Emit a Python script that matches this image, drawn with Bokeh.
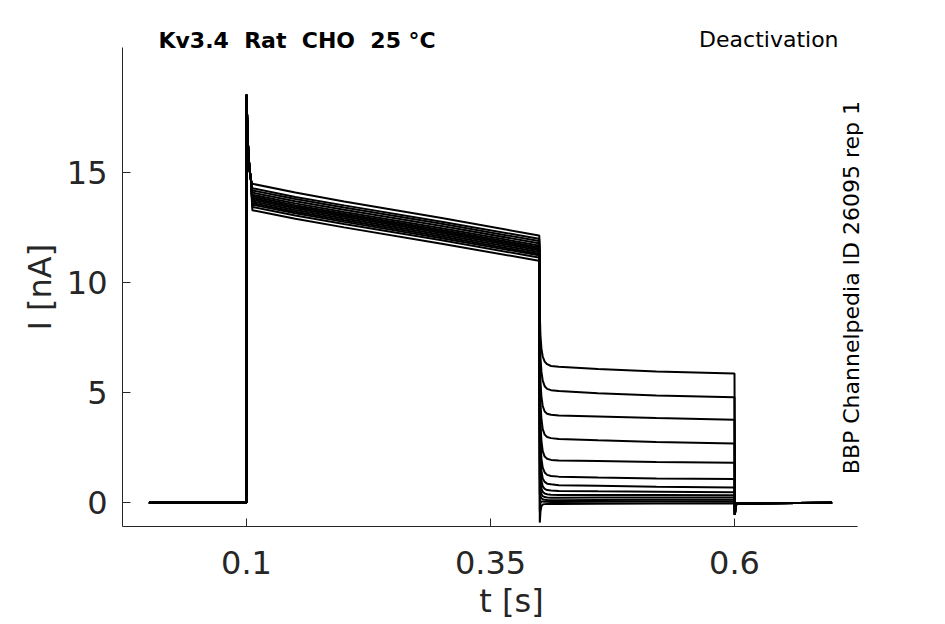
import math
from bokeh.plotting import figure
from bokeh.models import Range1d, FixedTicker, Label, ColumnDataSource, Title
from bokeh.embed import file_html
from bokeh.resources import INLINE

# ---------------- data ----------------
x_ticks = [0.1, 0.35, 0.6]
x_tick_labels = ["0.1", "0.35", "0.6"]
y_ticks = [0, 5, 10, 15]
y_tick_labels = ["0", "5", "10", "15"]

# holding phase (shared)
hold_t = [0.0, 0.0998]
hold_i = [0.0, 0.0]

# capacitive / activation peak at the step onset (shared)
spike_t = [0.1, 0.1006, 0.1015, 0.103, 0.1045]
spike_i = [18.55, 17.6, 16.3, 15.2, 14.7]

# depolarising step, one row per sweep
step_t = [0.106, 0.15, 0.2, 0.3, 0.3995]
step_i = [
    [14.50, 14.10, 13.70, 12.95, 12.15],
    [14.30, 13.90, 13.52, 12.78, 12.00],
    [14.20, 13.81, 13.42, 12.68, 11.90],
    [14.10, 13.71, 13.32, 12.58, 11.80],
    [14.00, 13.61, 13.22, 12.48, 11.70],
    [13.92, 13.53, 13.14, 12.40, 11.62],
    [13.85, 13.46, 13.07, 12.33, 11.55],
    [13.78, 13.39, 13.00, 12.26, 11.48],
    [13.70, 13.31, 12.92, 12.18, 11.40],
    [13.62, 13.23, 12.84, 12.10, 11.32],
    [13.55, 13.16, 12.77, 12.03, 11.25],
    [13.45, 13.06, 12.67, 11.93, 11.15],
    [13.30, 12.91, 12.52, 11.78, 11.00],
]

# deactivation (tail) phase, one row per sweep
tail_t = [0.4, 0.4005, 0.4012, 0.4022, 0.4035, 0.4055, 0.408, 0.412, 0.42, 0.46, 0.52, 0.5995]
tail_i = [
    [12.15, 8.60, 7.60, 7.00, 6.65, 6.42, 6.30, 6.22, 6.18, 6.08, 5.97, 5.88],
    [12.00, 7.80, 6.60, 5.95, 5.55, 5.30, 5.18, 5.12, 5.08, 4.98, 4.88, 4.80],
    [11.90, 6.90, 5.50, 4.80, 4.40, 4.15, 4.05, 4.00, 3.97, 3.92, 3.85, 3.78],
    [11.80, 6.00, 4.50, 3.80, 3.35, 3.10, 2.99, 2.94, 2.90, 2.84, 2.76, 2.70],
    [11.70, 5.20, 3.60, 2.80, 2.35, 2.10, 2.00, 1.95, 1.92, 1.90, 1.86, 1.82],
    [11.62, 4.40, 2.80, 2.00, 1.60, 1.38, 1.27, 1.22, 1.19, 1.15, 1.11, 1.08],
    [11.55, 3.60, 2.10, 1.45, 1.10, 0.95, 0.87, 0.84, 0.80, 0.77, 0.73, 0.70],
    [11.48, 2.80, 1.50, 1.00, 0.75, 0.63, 0.58, 0.56, 0.54, 0.52, 0.50, 0.48],
    [11.40, 2.00, 1.00, 0.65, 0.50, 0.42, 0.39, 0.37, 0.36, 0.36, 0.35, 0.34],
    [11.32, 1.20, 0.60, 0.40, 0.30, 0.26, 0.24, 0.23, 0.23, 0.24, 0.24, 0.24],
    [11.25, 0.40, 0.30, 0.20, 0.16, 0.14, 0.13, 0.12, 0.12, 0.13, 0.14, 0.14],
    [11.15, -0.40, 0.00, 0.06, 0.06, 0.05, 0.05, 0.04, 0.04, 0.05, 0.06, 0.06],
    [11.00, -0.90, -0.40, -0.15, -0.08, -0.06, -0.05, -0.05, -0.05, -0.04, -0.03, -0.02],
]

# return to holding (shared)
post_t = [0.6004, 0.601, 0.6025, 0.7]
post_i = [-0.55, -0.15, -0.03, 0.0]

# ---------------- assemble sweeps ----------------
xs, ys = [], []
for k in range(len(step_i)):
    t = hold_t + spike_t + step_t + tail_t + [0.6] + post_t
    i = hold_i + spike_i + step_i[k] + tail_i[k] + [tail_i[k][-1]] + post_i
    xs.append(t)
    ys.append(i)
src = ColumnDataSource(dict(xs=xs, ys=ys))

X_LO, X_HI, X_AX_HI = -0.02705, 0.77008, 0.7260
Y_LO, Y_HI, Y_AX_HI = -1.077, 22.15, 20.70

p = figure(
    width=929, height=624,
    x_range=Range1d(X_LO, X_HI), y_range=Range1d(Y_LO, Y_HI),
    output_backend="svg", toolbar_location=None,
    min_border_left=122, min_border_right=29, min_border_top=15, min_border_bottom=98,
)
p.multi_line(xs="xs", ys="ys", source=src, line_color="black", line_width=2.0)

p.xgrid.visible = False
p.ygrid.visible = False
p.outline_line_color = None
p.background_fill_color = "white"
p.border_fill_color = "white"

ax_col = "#262626"
for ax in (p.xaxis[0], p.yaxis[0]):
    ax.axis_line_color = ax_col
    ax.axis_line_width = 1
    ax.major_tick_line_color = ax_col
    ax.major_tick_in = 8
    ax.major_tick_out = 0
    ax.minor_tick_line_color = None
    ax.major_label_text_font = "DejaVu Sans"
    ax.major_label_text_font_size = "32px"
    ax.major_label_text_color = ax_col
    ax.axis_label_text_font = "DejaVu Sans"
    ax.axis_label_text_font_size = "32px"
    ax.axis_label_text_font_style = "normal"
    ax.axis_label_text_color = ax_col

p.xaxis.bounds = (X_LO, X_AX_HI)
p.yaxis.bounds = (Y_LO, Y_AX_HI)

p.xaxis.ticker = FixedTicker(ticks=x_ticks)
p.xaxis.major_label_overrides = dict(zip(x_ticks, x_tick_labels))
p.xaxis.major_label_standoff = 24
p.xaxis.axis_label = "t [s]"
p.xaxis.axis_label_standoff = 5

p.yaxis.ticker = FixedTicker(ticks=y_ticks)
p.yaxis.major_label_overrides = dict(zip(y_ticks, y_tick_labels))
p.yaxis.major_label_standoff = 15

# y-axis title, placed in the left panel so it can be shifted along the axis
p.add_layout(Title(text="I [nA]", align="left", offset=196, standoff=10,
                   text_font="DejaVu Sans", text_font_size="32px", text_font_style="normal",
                   text_color=ax_col), "left")

# annotations
p.add_layout(Label(x=0.0098, y=21.0, text="Kv3.4\u00a0 Rat\u00a0 CHO\u00a0 25 °C", text_align="left",
                   text_baseline="alphabetic", text_font="DejaVu Sans", text_font_style="bold",
                   text_font_size="22px", text_color="black"))
p.add_layout(Label(x=0.7066, y=21.08, text="Deactivation", text_align="right",
                   text_baseline="alphabetic", text_font="DejaVu Sans",
                   text_font_size="22px", text_color="black"))
p.add_layout(Label(x=0.7198, y=1.30, text="BBP Channelpedia ID 26095 rep 1", angle=math.pi / 2,
                   text_align="left", text_baseline="alphabetic", text_font="DejaVu Sans",
                   text_font_size="22px", text_color="black"))

open("out.html", "w").write(file_html(p, INLINE))
